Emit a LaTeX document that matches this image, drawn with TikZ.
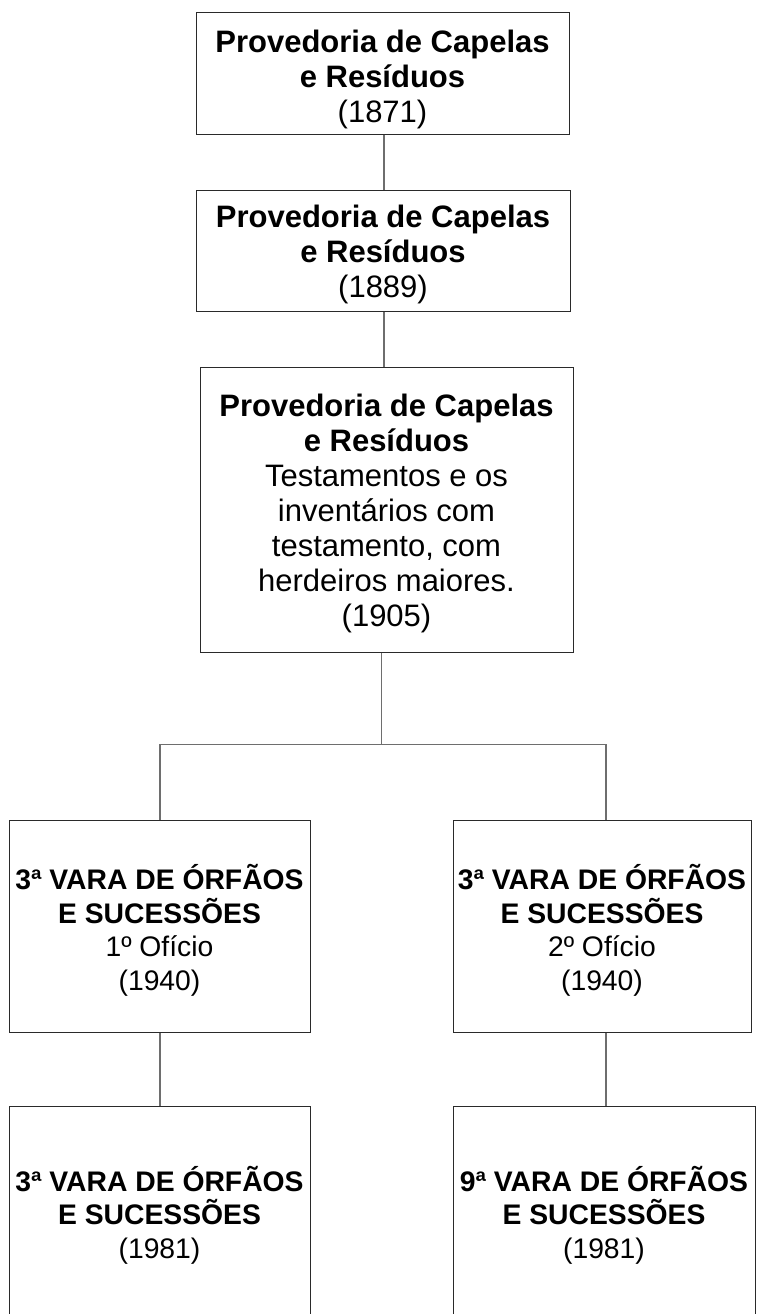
\documentclass[tikz,border=0pt]{standalone}
\usepackage{fontspec}
\setmainfont{Liberation Sans}
\definecolor{boxcol}{HTML}{2A2A2A}
\definecolor{conncol}{HTML}{6E6E6E}
\newcommand{\pushdown}[1]{\rule{0pt}{#1}}
\begin{document}
\begin{tikzpicture}[x=1pt,y=-1pt,
  box/.style={draw=boxcol, line width=1pt, fill=white, inner sep=0pt, align=center, rectangle},
  bigtxt/.style={font=\fontsize{31}{35}\selectfont},
  smalltxt/.style={font=\fontsize{28.3}{33.5}\selectfont},
  conn/.style={draw=conncol, line width=1.1pt}]
\clip (0,0) rectangle (757,1314);
\fill[white] (0,0) rectangle (757,1314);
% nodes
\node[box, bigtxt, minimum width=373pt, minimum height=121pt] (b1) at (382.5,73.5)
  {\pushdown{34pt}\textbf{Provedoria de Capelas}\\\textbf{e Resíduos}\\(1871)};
\node[box, bigtxt, minimum width=374pt, minimum height=121pt] (b2) at (383,250.5)
  {\pushdown{30pt}\textbf{Provedoria de Capelas}\\\textbf{e Resíduos}\\(1889)};
\node[box, bigtxt, minimum width=373pt, minimum height=285pt] (b3) at (386.5,509.5)
  {\pushdown{31pt}\textbf{Provedoria de Capelas}\\\textbf{e Resíduos}\\Testamentos e os\\inventários com\\testamento, com\\herdeiros maiores.\\(1905)};
\node[box, smalltxt, minimum width=301pt, minimum height=212pt] (b4) at (159.5,926.7)
  {\pushdown{32pt}\textbf{3ª VARA DE ÓRFÃOS}\\\textbf{E SUCESSÕES}\\1º Ofício\\(1940)};
\node[box, smalltxt, minimum width=298pt, minimum height=212pt] (b5) at (602,926.7)
  {\pushdown{32pt}\textbf{3ª VARA DE ÓRFÃOS}\\\textbf{E SUCESSÕES}\\2º Ofício\\(1940)};
\node[box, smalltxt, minimum width=301pt, minimum height=217pt] (b6) at (159.5,1215)
  {\textbf{3ª VARA DE ÓRFÃOS}\\\textbf{E SUCESSÕES}\\(1981)};
\node[box, smalltxt, minimum width=302pt, minimum height=217pt] (b7) at (604,1215)
  {\textbf{9ª VARA DE ÓRFÃOS}\\\textbf{E SUCESSÕES}\\(1981)};
% junction coordinates
\coordinate (j) at (381.7,744.3);
\coordinate (jl) at (160,744.3);
\coordinate (jr) at (606,744.3);
\coordinate (t1) at (384,0);
% connectors
\draw[conn] (b1.south -| t1) -- (b2.north -| t1);
\draw[conn] (b2.south -| t1) -- (b3.north -| t1);
\draw[conn] (b3.south -| j) -- (j);
\draw[conn] (jl) -- (jr);
\draw[conn] (jl) -- (jl |- b4.north);
\draw[conn] (jr) -- (jr |- b5.north);
\draw[conn] (b4.south -| jl) -- (b6.north -| jl);
\draw[conn] (b5.south -| jr) -- (b7.north -| jr);
\end{tikzpicture}
\end{document}
